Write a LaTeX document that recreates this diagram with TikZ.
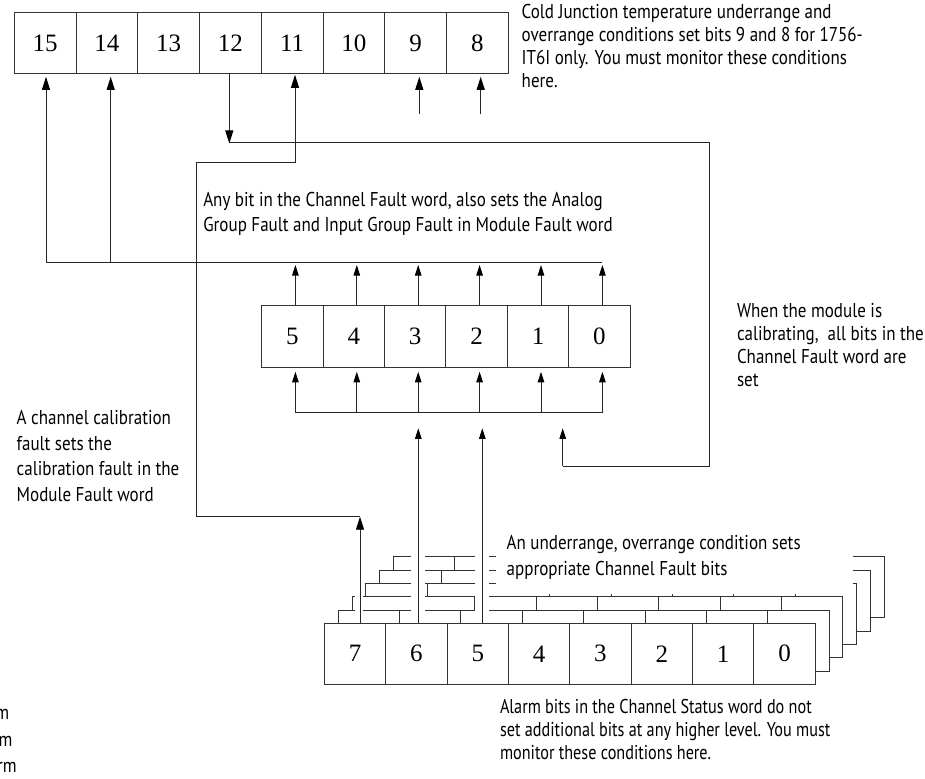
\documentclass[tikz,border=0pt]{standalone}
\usepackage{fontspec}
\setmainfont{Liberation Serif}
\newfontfamily\lblfont[FakeStretch=0.85]{PT Sans}
\newfontfamily\lblalm[FakeStretch=0.81]{PT Sans}
\usetikzlibrary{arrows.meta,calc}
\begin{document}
\begin{tikzpicture}[x=1pt,y=-1pt,
  ln/.style={draw=black!85, line width=0.9pt},
  cell/.style={draw=black!80, line width=0.9pt, fill=white, inner sep=0pt, outer sep=0pt, font=\fontsize{25}{25}\selectfont},
  big/.style={ln, -{Triangle[length=13pt,width=8pt,color=black]}},
  small/.style={ln, -{Triangle[length=10.5pt,width=6.5pt,color=black]}},
  lbl/.style={align=left, inner sep=0pt, outer sep=0pt, anchor=north west, font=\lblfont\fontsize{20}{23.5}\selectfont}
]
\useasboundingbox (0,0) rectangle (925,778);

% ---- top word (bits 15..8)
\foreach \b [count=\i from 0] in {15,14,...,8}
  \node[cell, minimum width=61.75pt, minimum height=60.6pt] (t\b) at ({14.3+30.875+61.75*\i},43) {\b};

% ---- middle word (Channel Fault, bits 5..0)
\foreach \b [count=\i from 0] in {5,4,...,0}
  \node[cell, minimum width=61.4pt, minimum height=62.3pt] (m\b) at ({261.7+30.7+61.4*\i},336.15) {\b};

% ---- stacked channel status words behind
\foreach \k in {5,4,3,2,1}
  \foreach \i in {0,...,7}
    \draw[ln, draw=black!80, fill=white] ({324.4+13.8*\k+61.35*\i},{623.3-13.3*\k}) rectangle +(61.35,61);

% white gaps round the vertical connectors
\draw[white, line width=14pt] (418.3,623) -- (418.3,548);
\draw[white, line width=14pt] (482.3,623) -- (482.3,548);
\draw[white, line width=8.3pt] (359.2,623) -- (359.2,548);

% ---- front channel status word (bits 7..0)
\foreach \b [count=\i from 0] in {7,6,...,0}
  \node[cell, minimum width=61.35pt, minimum height=61pt] (b\b) at ({324.4+30.675+61.35*\i},653.8) {\b};

% ---- texts
\node[lbl, font=\lblfont\fontsize{20}{23}\selectfont] (txtcj) at (521.7,4.3)
  {Cold Junction temperature underrange and\\overrange conditions set bits 9 and 8 for 1756-\\IT6I only. You must monitor these conditions\\here.};
\node[lbl, font=\lblfont\fontsize{20}{25}\selectfont] (txtany) at (203.3,192)
  {Any bit in the Channel Fault word, also sets the Analog\\Group Fault and Input Group Fault in Module Fault word};
\node[lbl, font=\lblfont\fontsize{20}{23}\selectfont] (txtcal) at (737,303.6)
  {When the module is\\calibrating,~ all bits in the\\Channel Fault word are\\set};
\node[lbl, font=\lblfont\fontsize{20}{25.5}\selectfont] (txtchc) at (16.7,410.6)
  {A channel calibration\\fault sets the\\calibration fault in the\\Module Fault word};
\fill[white] (496,525) rectangle (853.3,594);
\node[lbl, font=\lblfont\fontsize{20}{26.5}\selectfont] (txtund) at (506.7,535)
  {An underrange, overrange condition sets\\appropriate Channel Fault bits};
\node[lbl, font=\lblalm\fontsize{20}{23.3}\selectfont] (txtalm) at (500,699)
  {Alarm bits in the Channel Status word do not\\set additional bits at any higher level. You must\\monitor these conditions here.};
\node[inner sep=0pt, anchor=base east, font=\lblfont\fontsize{20}{24}\selectfont] (cut1) at (9.5,719) {m};
\node[inner sep=0pt, anchor=base east, font=\lblfont\fontsize{20}{24}\selectfont] (cut2) at (12.7,746.7) {m};
\node[inner sep=0pt, anchor=base east, font=\lblfont\fontsize{20}{24}\selectfont] (cut3) at (17,772.7) {rm};

% ---- connectors
\coordinate (p15) at (46,262);
\coordinate (p14) at (110.7,262);
\draw[ln] (p15) -- ($(m0.north)+(3,-43)$);
\draw[big, shorten >=3.5pt] (p15) -- (p15 |- t15.south);
\draw[big, shorten >=3.5pt] (p14) -- (p14 |- t14.south);
\draw[ln] ($(m5.south)+(3,45.4)$) -- ($(m0.south)+(3,45.4)$);
\foreach \n in {5,...,0}{
  \draw[small, shorten >=3pt] ($(m\n.north)+(3,0)$) -- ($(m\n.north)+(3,-43)$);
  \draw[small, shorten >=4.5pt] ($(m\n.south)+(3,45.4)$) -- ($(m\n.south)+(3,0)$);
}

% bits 9 and 8 from outside
\coordinate (c9) at (419.3,114.3);
\coordinate (c8) at (480.7,114.3);
\draw[big, shorten >=3.5pt] (c9) -- (c9 |- t9.south);
\draw[big, shorten >=3.5pt] (c8) -- (c8 |- t8.south);

% calibrating path
\coordinate (d12) at (229.3,143.5);
\coordinate (k1) at (709.5,142.3);
\coordinate (k2) at (709.5,466);
\coordinate (k3) at (562.7,466);
\coordinate (k4) at (562.7,428.3);
\draw[big] (d12 |- t12.south) -- (d12);
\draw[ln] (229.3,142.3) -- (k1) -- (k2) -- (k3);
\draw[small] (k3) -- (k4);

% calibration fault path
\coordinate (e1) at (295,162.7);
\coordinate (e2) at (196,162.7);
\coordinate (e3) at (196,516.7);
\coordinate (e4) at (360,516.7);
\draw[big, shorten >=1.5pt] (e1) -- (e1 |- t11.south);
\draw[ln] (e1) -- (e2) -- (e3) -- (e4);
\draw[big] (e4 |- b7.north) -- (e4);

% channel status bits 6 and 5 to channel fault
\coordinate (a6) at (418.3,428.3);
\coordinate (a5) at (482.3,428.3);
\draw[small] (a6 |- b6.north) -- (a6);
\draw[small] (a5 |- b5.north) -- (a5);
\end{tikzpicture}
\end{document}
